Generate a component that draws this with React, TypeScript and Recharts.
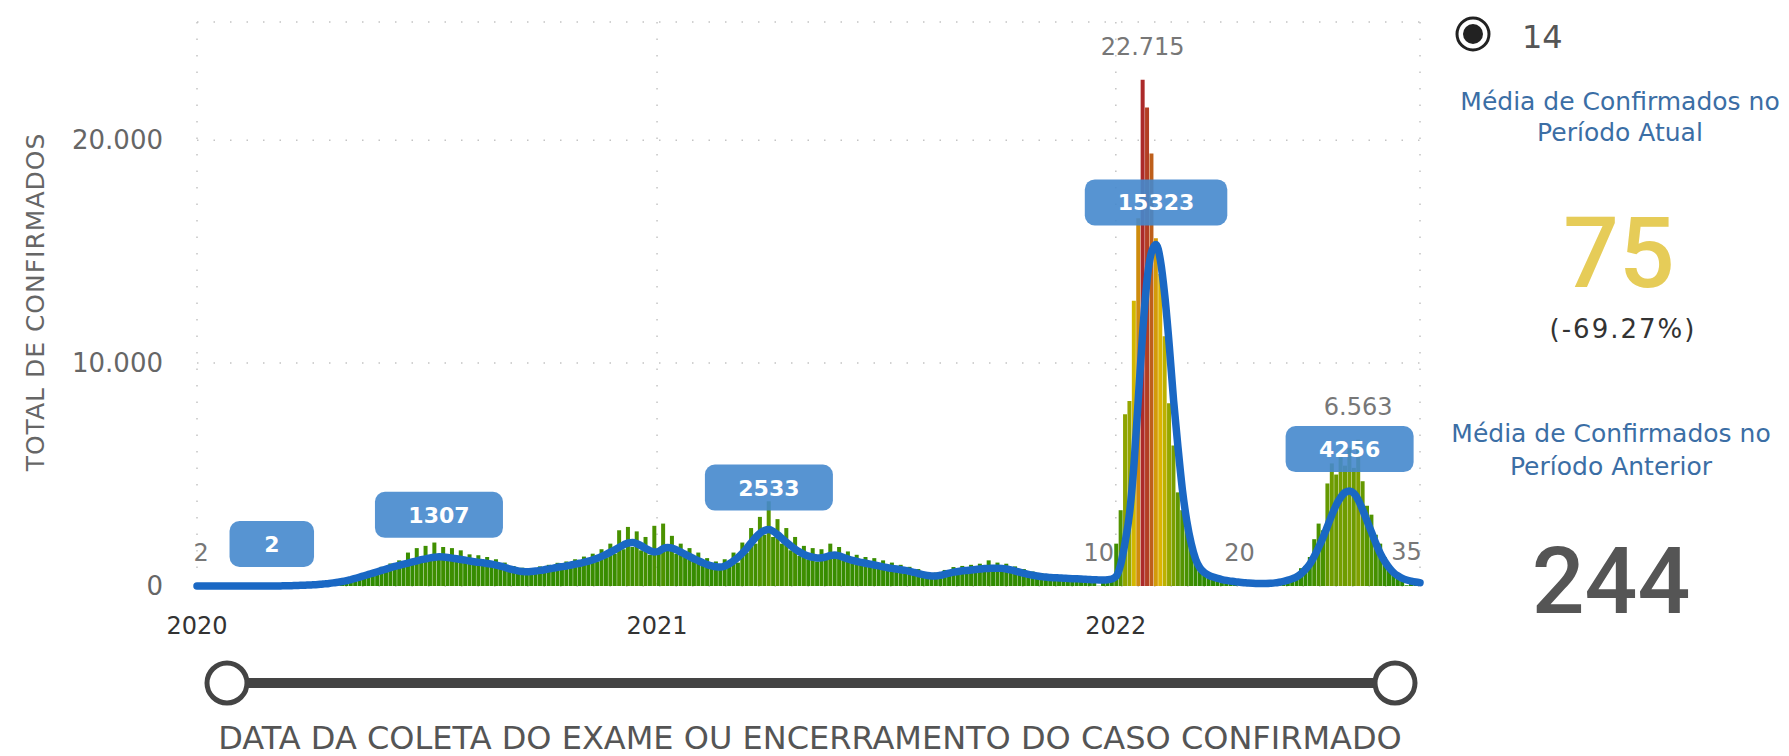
import React from 'react';
import { ComposedChart, Bar, Line, XAxis, YAxis, CartesianGrid, Cell, LabelList } from 'recharts';

// ---- data (one point every 3.5 days starting 2020-01-01) ----
const STEP_DAYS = 3.5;
const DOMAIN_END = 973;
const yearTicks = [0, 366, 731];
const yearLabels = ['2020', '2021', '2022'];
const yTicks = [0, 10000, 20000];
const Y_MAX = 25300;

const dailyCases = [
  0, 2, 0, 0, 0, 0, 0, 0, 0, 0,
  0, 0, 0, 0, 0, 0, 0, 1, 3, 6,
  11, 14, 22, 30, 38, 46, 60, 70, 90, 110,
  135, 160, 200, 220, 290, 320, 420, 430, 560, 540,
  700, 650, 860, 780, 1010, 900, 1150, 1000, 1500, 1100,
  1700, 1180, 1800, 1280, 1950, 1350, 1750, 1300, 1700, 1250,
  1600, 1180, 1420, 1120, 1380, 1050, 1300, 980, 1200, 900,
  1050, 780, 900, 680, 820, 620, 800, 640, 880, 690,
  950, 740, 1040, 820, 1100, 880, 1200, 950, 1320, 1010,
  1450, 1100, 1650, 1280, 1900, 1450, 2500, 1650, 2650, 1750,
  2450, 1600, 2200, 1400, 2700, 1450, 2800, 1600, 2250, 1450,
  1900, 1300, 1700, 1150, 1500, 950, 1250, 820, 1100, 780,
  1200, 880, 1500, 1050, 1950, 1500, 2600, 1900, 3100, 2300,
  3800, 2200, 3000, 1900, 2600, 1600, 2200, 1350, 1800, 1200,
  1700, 1100, 1650, 1200, 1900, 1250, 1750, 1150, 1550, 1050,
  1400, 950, 1300, 900, 1250, 820, 1150, 760, 1050, 700,
  950, 650, 860, 560, 760, 480, 620, 420, 600, 430,
  720, 480, 850, 560, 900, 600, 950, 620, 1000, 650,
  1150, 680, 1050, 660, 1000, 600, 880, 540, 760, 480,
  650, 420, 580, 370, 520, 340, 480, 320, 460, 300,
  440, 290, 420, 280, 400, 10, 310, 280, 420, 1900,
  3400, 7700, 8300, 12800, 16500, 22715, 21470, 19400, 15600, 14000,
  11200, 8200, 6300, 4200, 3400, 2600, 1700, 1150, 800, 650,
  480, 420, 330, 300, 240, 230, 180, 20, 160, 140,
  120, 125, 105, 125, 120, 150, 170, 230, 260, 380,
  520, 800, 900, 1300, 2100, 2800, 2500, 4600, 5500, 5000,
  5900, 5400, 6200, 5300, 6563, 4700, 3600, 3200, 2300, 1900,
  1300, 950, 700, 480, 330, 35, 200, 150, 120,
];

const movingAvg = [
  0, 0, 0, 0, 0, 0, 0, 0, 0, 0,
  0, 0, 0, 0, 0, 1, 1, 2, 3, 5,
  8, 12, 18, 25, 32, 40, 50, 60, 75, 95,
  115, 140, 170, 200, 240, 290, 340, 400, 460, 520,
  580, 640, 700, 760, 820, 880, 930, 980, 1030, 1080,
  1130, 1180, 1220, 1260, 1290, 1307, 1300, 1280, 1250, 1220,
  1190, 1160, 1120, 1090, 1060, 1040, 1010, 980, 940, 890,
  830, 770, 720, 680, 650, 640, 650, 670, 700, 730,
  770, 800, 840, 870, 900, 940, 980, 1020, 1070, 1120,
  1180, 1250, 1330, 1420, 1520, 1630, 1740, 1850, 1930, 1950,
  1900, 1800, 1680, 1580, 1530, 1560, 1680, 1730, 1700, 1620,
  1520, 1420, 1320, 1220, 1130, 1040, 960, 900, 860, 850,
  900, 1000, 1130, 1290, 1480, 1700, 1950, 2180, 2370, 2490,
  2533, 2450, 2300, 2130, 1960, 1800, 1650, 1520, 1420, 1340,
  1290, 1260, 1270, 1310, 1370, 1390, 1350, 1280, 1210, 1150,
  1100, 1060, 1020, 980, 940, 900, 860, 820, 790, 760,
  730, 700, 660, 610, 560, 510, 470, 450, 450, 480,
  530, 580, 620, 650, 680, 700, 720, 740, 760, 780,
  790, 800, 800, 790, 760, 720, 670, 620, 570, 520,
  480, 450, 420, 400, 380, 370, 360, 350, 340, 330,
  320, 310, 300, 290, 280, 270, 270, 280, 320, 450,
  1000, 2000, 3300, 5500, 8500, 11500, 13800, 15000, 15323, 14600,
  13000, 10800, 8300, 6200, 4300, 2900, 1900, 1200, 800, 600,
  480, 400, 340, 290, 250, 220, 190, 170, 150, 130,
  120, 115, 110, 115, 125, 140, 170, 210, 260, 330,
  420, 560, 750, 1000, 1350, 1750, 2200, 2700, 3200, 3650,
  3980, 4200, 4256, 4150, 3850, 3400, 2900, 2400, 1900, 1450,
  1100, 820, 600, 450, 340, 270, 220, 180, 150,
];

// points that carry a data label (Power BI style sparse labels)
const barLabelIdx = [1, 205, 215, 237, 264, 275];
const avgLabelIdx = [17, 55, 130, 218, 262];

const rows = dailyCases.map((v, i) => ({
  day: i * STEP_DAYS,
  cases: v,
  ma: movingAvg[i],
}));

const barLabelDays = barLabelIdx.map((i) => i * STEP_DAYS);
const avgLabelDays = avgLabelIdx.map((i) => i * STEP_DAYS);

// ---- styling helpers ----
const FONT = '"DejaVu Sans", sans-serif';
const PLOT_BOTTOM = 586;
const GREEN = [38, 136, 0];
const YELLOW = [222, 186, 0];
const RED = [172, 42, 42];
const MAX_V = Math.max(...dailyCases);
const MID_T = 0.6;

const mix = (a: number[], b: number[], t: number) =>
  `rgb(${a.map((c, k) => Math.round(c + (b[k] - c) * t)).join(',')})`;
function barColor(v: number) {
  const t = Math.max(0, Math.min(1, v / MAX_V));
  return t < MID_T ? mix(GREEN, YELLOW, t / MID_T) : mix(YELLOW, RED, (t - MID_T) / (1 - MID_T));
}
const fmt = (v: number) => String(v).replace(/\B(?=(\d{3})+(?!\d))/g, '.');

const dayOf = (props: any) => {
  const p = props.payload ?? props.entry?.payload;
  return p && typeof p.day === 'number' ? p.day : undefined;
};

const XTick = (props: any) => {
  const { x, payload } = props;
  const idx = yearTicks.indexOf(payload.value);
  return (
    <text x={x} y={PLOT_BOTTOM + 48} textAnchor="middle" fontSize={24} fill="#333" fontFamily={FONT}>
      {idx >= 0 ? yearLabels[idx] : ''}
    </text>
  );
};

const YTick = (props: any) => {
  const { y, payload } = props;
  return (
    <text x={163} y={y + 9} textAnchor="end" fontSize={26} fill="#666" fontFamily={FONT}>
      {fmt(payload.value)}
    </text>
  );
};

const barLabelValues = barLabelIdx.map((i) => dailyCases[i]);
const avgLabelValues = avgLabelIdx.map((i) => movingAvg[i]);

const BarValueLabel = (props: any) => {
  const { value } = props;
  const d = dayOf(props);
  const ok = d !== undefined ? barLabelDays.includes(d) : barLabelValues.includes(value);
  if (!ok) return null;
  const vb = props.viewBox || {};
  const x = vb.x ?? props.x;
  const w = vb.width ?? props.width ?? 0;
  const y = vb.y ?? props.y;
  const h = vb.height ?? props.height ?? 0;
  const top = Math.min(y, y + h);
  return (
    <text x={x + w / 2} y={top - 25} textAnchor="middle" fontSize={24} fill="#777" fontFamily={FONT}>
      {fmt(value)}
    </text>
  );
};

const AvgLabel = (props: any) => {
  const { value } = props;
  const d = dayOf(props);
  const ok = d !== undefined ? avgLabelDays.includes(d) : avgLabelValues.includes(value);
  if (!ok) return null;
  const vb = props.viewBox || {};
  const x = vb.x ?? props.x;
  const y = vb.y ?? props.y;
  const text = String(value);
  const w = 14.5 * text.length + 70;
  const h = 46;
  const cy = y - 42;
  return (
    <g>
      <rect x={x - w / 2} y={cy - h / 2} width={w} height={h} rx={10} ry={10} fill="rgb(69,136,205)" fillOpacity={0.9} />
      <text x={x} y={cy + 8} textAnchor="middle" fontSize={22} fontWeight="bold" fill="#fff" fontFamily={FONT}>
        {text}
      </text>
    </g>
  );
};

export default function App() {
  return (
    <div style={{ position: 'absolute', left: 0, top: 0, width: 1789, height: 756, background: '#fff', overflow: 'hidden', fontFamily: FONT }}>
      <div style={{ position: 'absolute', left: 0, top: 0 }}>
        <ComposedChart width={1440} height={660} data={rows} margin={{ top: 22, right: 20, bottom: 0, left: 0 }} style={{ fontFamily: FONT }}>
          <CartesianGrid stroke="#c4c4c4" strokeWidth={1.5} strokeDasharray="1.5 15" />
          <XAxis
            dataKey="day"
            type="number"
            domain={[0, DOMAIN_END]}
            ticks={yearTicks}
            axisLine={false}
            tickLine={false}
            tickSize={0}
            tickMargin={0}
            height={74}
            tick={<XTick />}
            interval={0}
          />
          <YAxis
            type="number"
            domain={[0, Y_MAX]}
            ticks={yTicks}
            axisLine={false}
            tickLine={false}
            width={197}
            tick={<YTick />}
            interval={0}
          />
          <Bar dataKey="cases" barSize={4} isAnimationActive={false} minPointSize={0}>
            {rows.map((r, i) => (
              <Cell key={i} fill={barColor(r.cases)} />
            ))}
            <LabelList dataKey="cases" content={BarValueLabel} />
          </Bar>
          <Line
            dataKey="ma"
            type="monotone"
            stroke="#1a68c4"
            strokeWidth={7.5}
            dot={false}
            strokeLinejoin="round"
            strokeLinecap="round"
            isAnimationActive={false}
          >
            <LabelList dataKey="ma" content={AvgLabel} />
          </Line>
        </ComposedChart>
      </div>
      <svg width={1789} height={756} style={{ position: 'absolute', left: 0, top: 0, pointerEvents: 'none' }} fontFamily={FONT}>
        <text transform="translate(44,302) rotate(-90)" textAnchor="middle" fontSize={25} letterSpacing={1} fill="#666">
          TOTAL DE CONFIRMADOS
        </text>
        <line x1={227} y1={683} x2={1395} y2={683} stroke="#444" strokeWidth={10} />
        <circle cx={227} cy={683} r={20} fill="#fff" stroke="#444" strokeWidth={5} />
        <circle cx={1395} cy={683} r={20} fill="#fff" stroke="#444" strokeWidth={5} />
        <text x={810} y={749} textAnchor="middle" fontSize={32} fill="#555">
          DATA DA COLETA DO EXAME OU ENCERRAMENTO DO CASO CONFIRMADO
        </text>
        <circle cx={1473} cy={34} r={16} fill="#fff" stroke="#222" strokeWidth={3} />
        <circle cx={1473} cy={34} r={10} fill="#222" />
        <text x={1522} y={48} fontSize={32} fill="#555">14</text>
        <text x={1620} y={110} textAnchor="middle" fontSize={25} fill="#3b6ea5">Média de Confirmados no</text>
        <text x={1620} y={141} textAnchor="middle" fontSize={25} fill="#3b6ea5">Período Atual</text>
        <text x={1619} y={287} textAnchor="middle" fontFamily="Roboto" fontWeight={500} fontSize={98} fill="#e6cc58">75</text>
        <text x={1623} y={338} textAnchor="middle" fontSize={26} letterSpacing={2} fill="#333">(-69.27%)</text>
        <text x={1611} y={442} textAnchor="middle" fontSize={25} fill="#3b6ea5">Média de Confirmados no</text>
        <text x={1611} y={475} textAnchor="middle" fontSize={25} fill="#3b6ea5">Período Anterior</text>
        <text x={1611} y={613} textAnchor="middle" fontFamily="Roboto" fontWeight={500} fontSize={93} fill="#555">244</text>
      </svg>
    </div>
  );
}
